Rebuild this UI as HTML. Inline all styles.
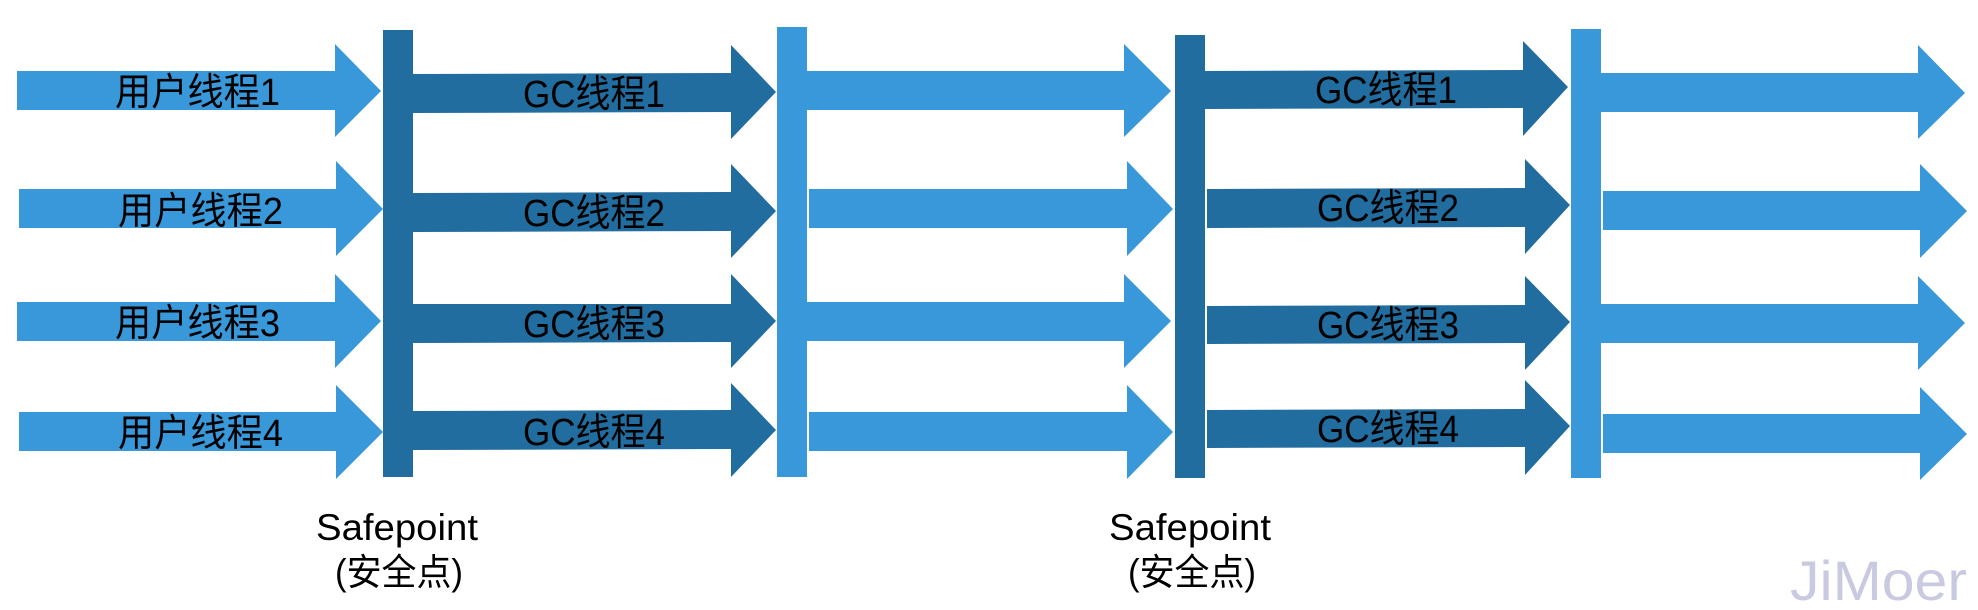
<!DOCTYPE html>
<html><head><meta charset="utf-8"><style>
html,body{margin:0;padding:0;background:#fff;}
svg{display:block;}
text{font-family:"Liberation Sans","Noto Sans CJK SC",sans-serif;fill:#000;}
</style></head><body>
<svg width="1978" height="610" viewBox="0 0 1978 610" xmlns="http://www.w3.org/2000/svg">
<g fill="#3898d9">
<polygon points="17,71 335,71 335,44 381,91 335,137 335,110 17,110"/>
<polygon points="19,189 336,189 336,161 383,209 336,256 336,228 19,228"/>
<polygon points="17,302 335,302 335,274 381,321 335,368 335,341 17,341"/>
<polygon points="19,412 336,412 336,385 383,432 336,479 336,451 19,451"/>
<polygon points="807,71 1124,71 1124,44 1171,91 1124,137 1124,110 807,110"/>
<polygon points="809,189 1127,189 1127,161 1173,209 1127,256 1127,228 809,228"/>
<polygon points="807,302 1124,302 1124,274 1171,321 1124,368 1124,341 807,341"/>
<polygon points="809,412 1127,412 1127,385 1173,432 1127,479 1127,451 809,451"/>
<polygon points="1601,73 1918,73 1918,45 1965,93 1918,139 1918,112 1601,112"/>
<polygon points="1603,191 1920,191 1920,164 1967,211 1920,258 1920,230 1603,230"/>
<polygon points="1601,304 1918,304 1918,276 1965,323 1918,370 1918,343 1601,343"/>
<polygon points="1603,414 1920,414 1920,387 1967,434 1920,480 1920,453 1603,453"/>
<rect x="777" y="27" width="30" height="450"/>
<rect x="1571" y="29" width="30" height="449"/>
</g>
<g fill="#226d9f">
<rect x="383" y="30" width="30" height="447"/>
<rect x="1175" y="35" width="30" height="443"/>
<polygon points="413,74 731,73 731,45 776,92 731,139 731,112 413,113"/>
<polygon points="413,193 731,192 731,164 776,211 731,258 731,231 413,232"/>
<polygon points="413,304 731,304 731,274 776,321 731,368 731,342 413,343"/>
<polygon points="413,411 731,410 731,383 776,430 731,477 731,449 413,450"/>
<polygon points="1205,71 1523,70 1523,41 1568,87 1523,136 1523,108 1205,109"/>
<polygon points="1207,189 1525,188 1525,159 1570,205 1525,254 1525,227 1207,228"/>
<polygon points="1207,306 1525,305 1525,276 1570,322 1525,370 1525,343 1207,344"/>
<polygon points="1207,410 1525,409 1525,380 1570,426 1525,475 1525,447 1207,448"/>
</g>
<g font-size="38">
<text x="115" y="105" textLength="165" lengthAdjust="spacingAndGlyphs">用户线程1</text>
<text x="118" y="224" textLength="165" lengthAdjust="spacingAndGlyphs">用户线程2</text>
<text x="115" y="336" textLength="165" lengthAdjust="spacingAndGlyphs">用户线程3</text>
<text x="118" y="446" textLength="165" lengthAdjust="spacingAndGlyphs">用户线程4</text>
<text x="523" y="107" textLength="142" lengthAdjust="spacingAndGlyphs">GC线程1</text>
<text x="523" y="226" textLength="142" lengthAdjust="spacingAndGlyphs">GC线程2</text>
<text x="523" y="337" textLength="142" lengthAdjust="spacingAndGlyphs">GC线程3</text>
<text x="523" y="445" textLength="142" lengthAdjust="spacingAndGlyphs">GC线程4</text>
<text x="1315" y="103" textLength="142" lengthAdjust="spacingAndGlyphs">GC线程1</text>
<text x="1317" y="221" textLength="142" lengthAdjust="spacingAndGlyphs">GC线程2</text>
<text x="1317" y="338" textLength="142" lengthAdjust="spacingAndGlyphs">GC线程3</text>
<text x="1317" y="442" textLength="142" lengthAdjust="spacingAndGlyphs">GC线程4</text>
</g>
<g font-size="37">
<text x="316" y="540" textLength="162" lengthAdjust="spacingAndGlyphs">Safepoint</text>
<text x="335" y="585" textLength="128" lengthAdjust="spacingAndGlyphs">(安全点)</text>
<text x="1109" y="540" textLength="162" lengthAdjust="spacingAndGlyphs">Safepoint</text>
<text x="1128" y="585" textLength="128" lengthAdjust="spacingAndGlyphs">(安全点)</text>
</g>
<text x="1790" y="600" font-size="56" style="fill:#c9c9e2" textLength="177" lengthAdjust="spacingAndGlyphs">JiMoer</text>
</svg>
</body></html>
